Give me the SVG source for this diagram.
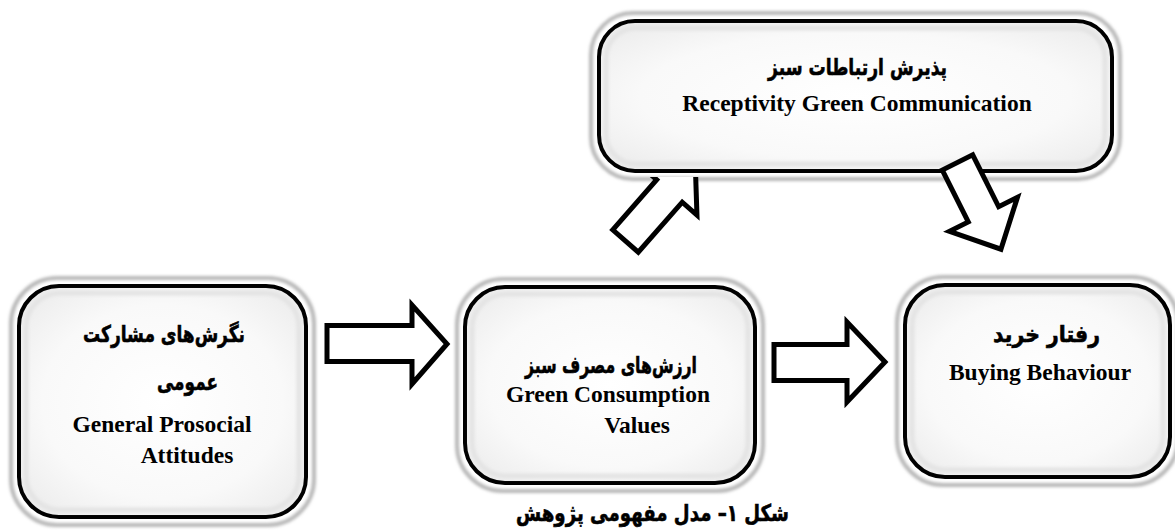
<svg xmlns="http://www.w3.org/2000/svg" width="1175" height="530" viewBox="0 0 1175 530">
<style>
.halo{fill:none;stroke:#b8b8b8;stroke-width:4;filter:url(#blur2)}
.box{fill:url(#boxfill);stroke:#000;stroke-width:4}
.inner{fill:none;stroke:#e4e4e4;stroke-width:5;filter:url(#blur2)}
.fa{font-family:"DejaVu Sans",sans-serif;font-weight:bold;font-size:23px;text-anchor:middle;fill:#000;stroke:#000;stroke-width:0.6}
.en{font-family:"Liberation Serif","Times New Roman",serif;font-weight:bold;font-size:23.5px;text-anchor:middle;fill:#000}
.arr{fill:#fff;stroke:#000;stroke-width:5;stroke-linejoin:miter}
</style>
<defs>
<filter id="blur2" x="-10%" y="-10%" width="120%" height="120%"><feGaussianBlur stdDeviation="1.6"/></filter>
<radialGradient id="boxfill" cx="50%" cy="50%" r="70%">
<stop offset="0" stop-color="#ffffff"/>
<stop offset="0.6" stop-color="#f9f9f9"/>
<stop offset="1" stop-color="#e9e9e9"/>
</radialGradient>
<clipPath id="belowTop"><rect x="0" y="177" width="1175" height="353"/></clipPath>
</defs>
<rect width="1175" height="530" fill="#fff"/>

<g id="node-prosocial">
<rect class="halo" x="11" y="278" width="303" height="247" rx="46"/>
<rect class="box" x="19" y="286" width="287" height="231" rx="40"/>
<rect class="inner" x="26" y="293" width="273" height="217" rx="34"/>
<text class="fa" x="164" y="342" textLength="162" lengthAdjust="spacingAndGlyphs">نگرش&#x200C;های مشارکت</text>
<text class="fa" x="187.5" y="390" textLength="61" lengthAdjust="spacingAndGlyphs">عمومی</text>
<text class="en" x="162" y="432">General Prosocial</text>
<text class="en" x="187" y="463">Attitudes</text>
</g>

<g id="node-values">
<rect class="halo" x="457" y="279" width="306" height="212" rx="46"/>
<rect class="box" x="465" y="287" width="290" height="196" rx="40"/>
<rect class="inner" x="472" y="294" width="276" height="182" rx="34"/>
<text class="fa" x="611" y="373" textLength="172" lengthAdjust="spacingAndGlyphs">ارزش&#x200C;های مصرف سبز</text>
<text class="en" x="608" y="402">Green Consumption</text>
<text class="en" x="637" y="433">Values</text>
</g>

<g id="node-receptivity">
<rect class="halo" x="591" y="13" width="529" height="166" rx="42"/>
<rect class="box" x="599" y="21" width="513" height="150" rx="36"/>
<rect class="inner" x="606" y="28" width="499" height="136" rx="30"/>
<text class="fa" x="857.5" y="75" textLength="179" lengthAdjust="spacingAndGlyphs">پذیرش ارتباطات سبز</text>
<text class="en" x="857" y="111">Receptivity Green Communication</text>
</g>

<g id="node-buying">
<rect class="halo" x="897" y="277" width="281" height="208" rx="46"/>
<rect class="box" x="905" y="285" width="265" height="192" rx="40"/>
<rect class="inner" x="912" y="292" width="251" height="178" rx="34"/>
<text class="fa" x="1046.5" y="342" textLength="107" lengthAdjust="spacingAndGlyphs">رفتار خرید</text>
<text class="en" x="1040" y="380">Buying Behaviour</text>
</g>

<g id="connectors">
<polygon class="arr" points="327,325.5 412,325.5 412,305 447,344 412,384 412,361.5 327,361.5"/>
<polygon class="arr" points="774,344.5 847,344.5 847,322 885,362 847,402 847,380.5 774,380.5"/>
<g clip-path="url(#belowTop)">
<polygon class="arr" transform="translate(625.5,241) rotate(-48.7)" points="0,-17 66.6,-17 66.6,-36.6 105.6,0 66.6,36.6 66.6,17 0,17"/>
</g>
<polygon class="arr" transform="translate(957.5,162.5) rotate(63.4)" points="0,-17 58,-17 58,-38 97,0 58,38 58,17 0,17"/>
</g>

<text id="caption" class="fa" x="652.5" y="521" textLength="273" lengthAdjust="spacingAndGlyphs">شکل ۱– مدل مفهومی پژوهش</text>
</svg>
